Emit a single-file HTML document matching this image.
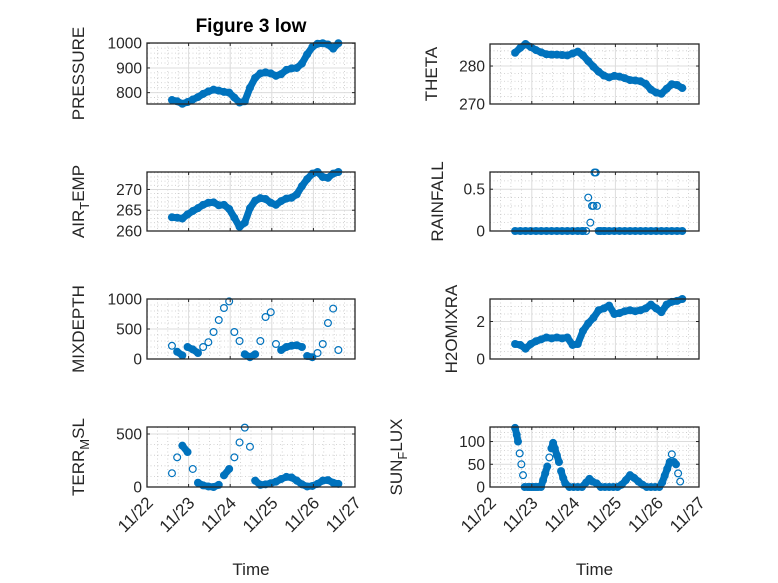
<!DOCTYPE html>
<html><head><meta charset="utf-8"><style>
html,body{margin:0;padding:0;background:#fff;}
svg{display:block;font-family:"Liberation Sans","DejaVu Sans",sans-serif;}
</style></head><body>
<svg id="fig" width="778" height="583" viewBox="0 0 778 583" xmlns="http://www.w3.org/2000/svg">
<rect width="778" height="583" fill="#fff"/>
<text x="251" y="32" text-anchor="middle" font-size="19" font-weight="bold" fill="#000">Figure 3 low</text>
</svg>
<script>
const t = [0.6,0.725,0.85,0.975,1.1,1.225,1.35,1.475,1.6,1.725,1.85,1.975,2.1,2.225,2.35,2.475,2.6,2.725,2.85,2.975,3.1,3.225,3.35,3.475,3.6,3.725,3.85,3.975,4.1,4.225,4.35,4.475,4.6];
const pressure = [770,765,755,762,772,782,795,805,812,808,803,800,780,760,765,820,860,878,882,878,868,875,892,898,900,918,955,985,998,1000,995,978,1000];
const airTemp = [263.3,263.2,263.0,264.0,264.8,265.5,266.3,266.8,266.9,266.2,266.3,265.3,263.2,261.0,262.0,265.5,267.3,267.9,267.7,266.8,266.3,267.2,267.8,268.0,268.8,270.8,272.5,273.8,274.2,273.0,272.8,273.8,274.2];
const mixDepth = [220,120,60,200,160,100,200,280,450,650,850,960,450,300,80,30,80,300,700,780,250,150,200,220,230,200,50,30,100,250,600,840,150];
const terrMsl = [130,280,390,330,170,40,15,5,0,20,110,170,280,420,560,380,60,20,25,35,50,75,95,90,60,25,5,10,30,60,65,40,30];
const theta = [283.5,284.8,285.8,285.0,284.2,283.6,283.1,283.0,283.0,282.9,282.8,283.3,283.8,282.8,281.3,279.8,278.5,277.5,277.0,277.4,277.2,276.8,276.3,276.2,276.0,275.3,273.8,273.0,272.7,274.0,275.2,275.0,274.2];
const rainfall = [0,0,0,0,0,0,0,0,0,0,0,0,0,0,0.4,0.3,0,0,0,0,0,0,0,0,0,0,0,0,0,0,0,0,0];
const rainExtraT = [2.4,2.44,2.5,2.53,2.56,2.3,2.2,2.65,2.75];
const rainExtraV = [0.1,0.3,0.7,0.7,0.3,0,0,0,0];
const h2o = [0.8,0.75,0.55,0.8,0.95,1.05,1.15,1.1,1.15,1.1,1.15,0.75,0.8,1.5,1.9,2.2,2.6,2.7,2.85,2.4,2.45,2.55,2.6,2.55,2.6,2.7,2.9,2.7,2.5,2.9,3.05,3.1,3.2];
const sunT = [0.6,0.64,0.67,0.71,0.75,0.79,0.83,0.9,0.95,1.0,1.05,1.1,1.15,1.22,1.27,1.32,1.37,1.42,1.47,1.51,1.55,1.6,1.65,1.7,1.75,1.8,1.9,2.0,2.1,2.2,2.3,2.38,2.45,2.55,2.65,2.75,2.85,2.95,3.05,3.15,3.25,3.35,3.45,3.55,3.65,3.75,3.85,3.95,4.05,4.12,4.18,4.24,4.3,4.35,4.4,4.45,4.5,4.55];
const sunV = [130,115,100,74,50,26,0,0,0,0,0,0,0,0,15,30,45,65,85,97,85,70,55,35,20,8,0,0,0,0,10,18,12,8,0,0,0,0,0,5,15,26,20,12,5,0,0,0,0,10,25,40,55,72,55,50,30,12];
const xTickLabels = ["11/22","11/23","11/24","11/25","11/26","11/27"];
const pressTicks = [800,900,1000], airTicks = [260,265,270], mixTicks = [0,500,1000], terrTicks = [0,500];
const thetaTicks = [270,280], rainTicks = [0,0.5], h2oTicks = [0,2], sunTicks = [0,50,100];

const NS = "http://www.w3.org/2000/svg";
const svg = document.getElementById('fig');
function mk(tag, attrs, parent){ const e=document.createElementNS(NS,tag); for(const k in attrs) e.setAttribute(k,attrs[k]); (parent||svg).appendChild(e); return e; }

function panel(name, box, ylim, yticks, yfmt, series, label, labelX, showX, bandTol){
  const [x0,y0,x1,y1]=box;
  const g = mk('g',{});
  
  
  const sx = d => x0 + (x1-x0)*d/5;
  const sy = v => y1 - (y1-y0)*(v-ylim[0])/(ylim[1]-ylim[0]);
  for(let d=0; d<5; d+=0.25){ if(Math.abs(d-Math.round(d))<1e-6) continue;
    mk('line',{x1:sx(d),x2:sx(d),y1:y0,y2:y1,stroke:'#c8c8c8','stroke-width':0.8,'stroke-dasharray':'1,2.5'},g); }
  const step = yticks[1]-yticks[0], ms = step/5;
  for(let v=yticks[0]-step; v<=ylim[1]+1e-9; v+=ms){ if(v<ylim[0]-1e-9) continue;
    const r=(v-yticks[0])/step; if(Math.abs(r-Math.round(r))<1e-6) continue;
    mk('line',{x1:x0,x2:x1,y1:sy(v),y2:sy(v),stroke:'#c8c8c8','stroke-width':0.8,'stroke-dasharray':'1,2.5'},g); }
  for(let d=1; d<5; d++) mk('line',{x1:sx(d),x2:sx(d),y1:y0,y2:y1,stroke:'#dcdcdc','stroke-width':1},g);
  yticks.forEach(v=>{ mk('line',{x1:x0,x2:x1,y1:sy(v),y2:sy(v),stroke:'#dcdcdc','stroke-width':1},g); });
  const dg = mk('g',{fill:'none',stroke:'#0072BD','stroke-width':1.2},g);
  
  
  series.forEach(([ts,vs],si)=>{
    if(si===0){
      for(let i=1;i<ts.length;i++){
        const ax=sx(ts[i-1]), ay=sy(vs[i-1]), bx=sx(ts[i]), by=sy(vs[i]);
        if(Math.abs(by-ay)<bandTol && Math.abs(bx-ax)<8){
          const seg = mk('line',{x1:ax,y1:ay,x2:bx,y2:by,'stroke-width':7,'stroke-linecap':'round'},dg);
          
          
        }
      }
    }
    ts.forEach((d,i)=>{
      const c = mk('circle',{cx:sx(d),cy:sy(vs[i]),r:3.4},dg);
      
      
    });
  });
  mk('rect',{x:x0,y:y0,width:x1-x0,height:y1-y0,fill:'none',stroke:'#262626','stroke-width':1.3},g);
  for(let d=0; d<=5; d++){ mk('line',{x1:sx(d),x2:sx(d),y1:y1,y2:y1-3,stroke:'#262626'},g); mk('line',{x1:sx(d),x2:sx(d),y1:y0,y2:y0+3,stroke:'#262626'},g); }
  yticks.forEach(v=>{ mk('line',{x1:x0,x2:x0+3,y1:sy(v),y2:sy(v),stroke:'#262626'},g); mk('line',{x1:x1,x2:x1-3,y1:sy(v),y2:sy(v),stroke:'#262626'},g);
    const tx = mk('text',{x:x0-5,y:sy(v)+5.5,'text-anchor':'end','font-size':15.5,fill:'#262626'},g);
    tx.textContent = yfmt(v);
    
    
  });
  if(showX){
    xTickLabels.forEach((s,i)=>{
      const ax=sx(i)+7, ay=y1+17;
      const tx = mk('text',{x:ax,y:ay,'text-anchor':'end','font-size':17,fill:'#262626',transform:`rotate(-45 ${ax} ${ay})`},g);
      tx.textContent = s;
      
      
    });
    const xl = mk('text',{x:(x0+x1)/2,y:575,'text-anchor':'middle','font-size':17,fill:'#262626'},g);
    xl.textContent='Time';
    
    
  }
  const cy=(y0+y1)/2;
  const yl = mk('text',{x:labelX,y:cy,'text-anchor':'middle','font-size':17,fill:'#262626',transform:`rotate(-90 ${labelX} ${cy})`},g);
  
  
  label.forEach(([s,sub])=>{ const ts=mk('tspan',{},yl); ts.textContent=s; if(sub){ ts.setAttribute('font-size','13'); ts.setAttribute('dy','5'); } else if(yl.childNodes.length>1){ ts.setAttribute('dy','-5'); } });
}
const L=[147,355], R=[490,699];
const f0 = v=>String(v);
panel('pressure',[L[0],43,L[1],104],[754,1001],pressTicks,f0,[[t,pressure]],[['PRESSURE']],84,false,30);
panel('air-temp',[L[0],172,L[1],231],[260,274.2],airTicks,f0,[[t,airTemp]],[['AIR'],['T',1],['EMP']],84,false,30);
panel('mixdepth',[L[0],299,L[1],359],[0,1000],mixTicks,f0,[[t,mixDepth]],[['MIXDEPTH']],84,false,4);
panel('terr-msl',[L[0],427,L[1],487],[0,566],terrTicks,f0,[[t,terrMsl]],[['TERR'],['M',1],['SL']],84,true,7);
panel('theta',[R[0],44,R[1],104],[270,285.8],thetaTicks,f0,[[t,theta]],[['THETA']],437,false,30);
panel('rainfall',[R[0],172,R[1],231],[0,0.706],rainTicks,f0,[[t,rainfall],[rainExtraT,rainExtraV]],[['RAINFALL']],443,false,7);
panel('h2omixra',[R[0],299,R[1],359],[0,3.2],h2oTicks,f0,[[t,h2o]],[['H2OMIXRA']],457,false,30);
panel('sun-flux',[R[0],427,R[1],487],[0,132],sunTicks,f0,[[sunT,sunV]],[['SUN'],['F',1],['LUX']],402,true,7);
</script>
</body></html>
